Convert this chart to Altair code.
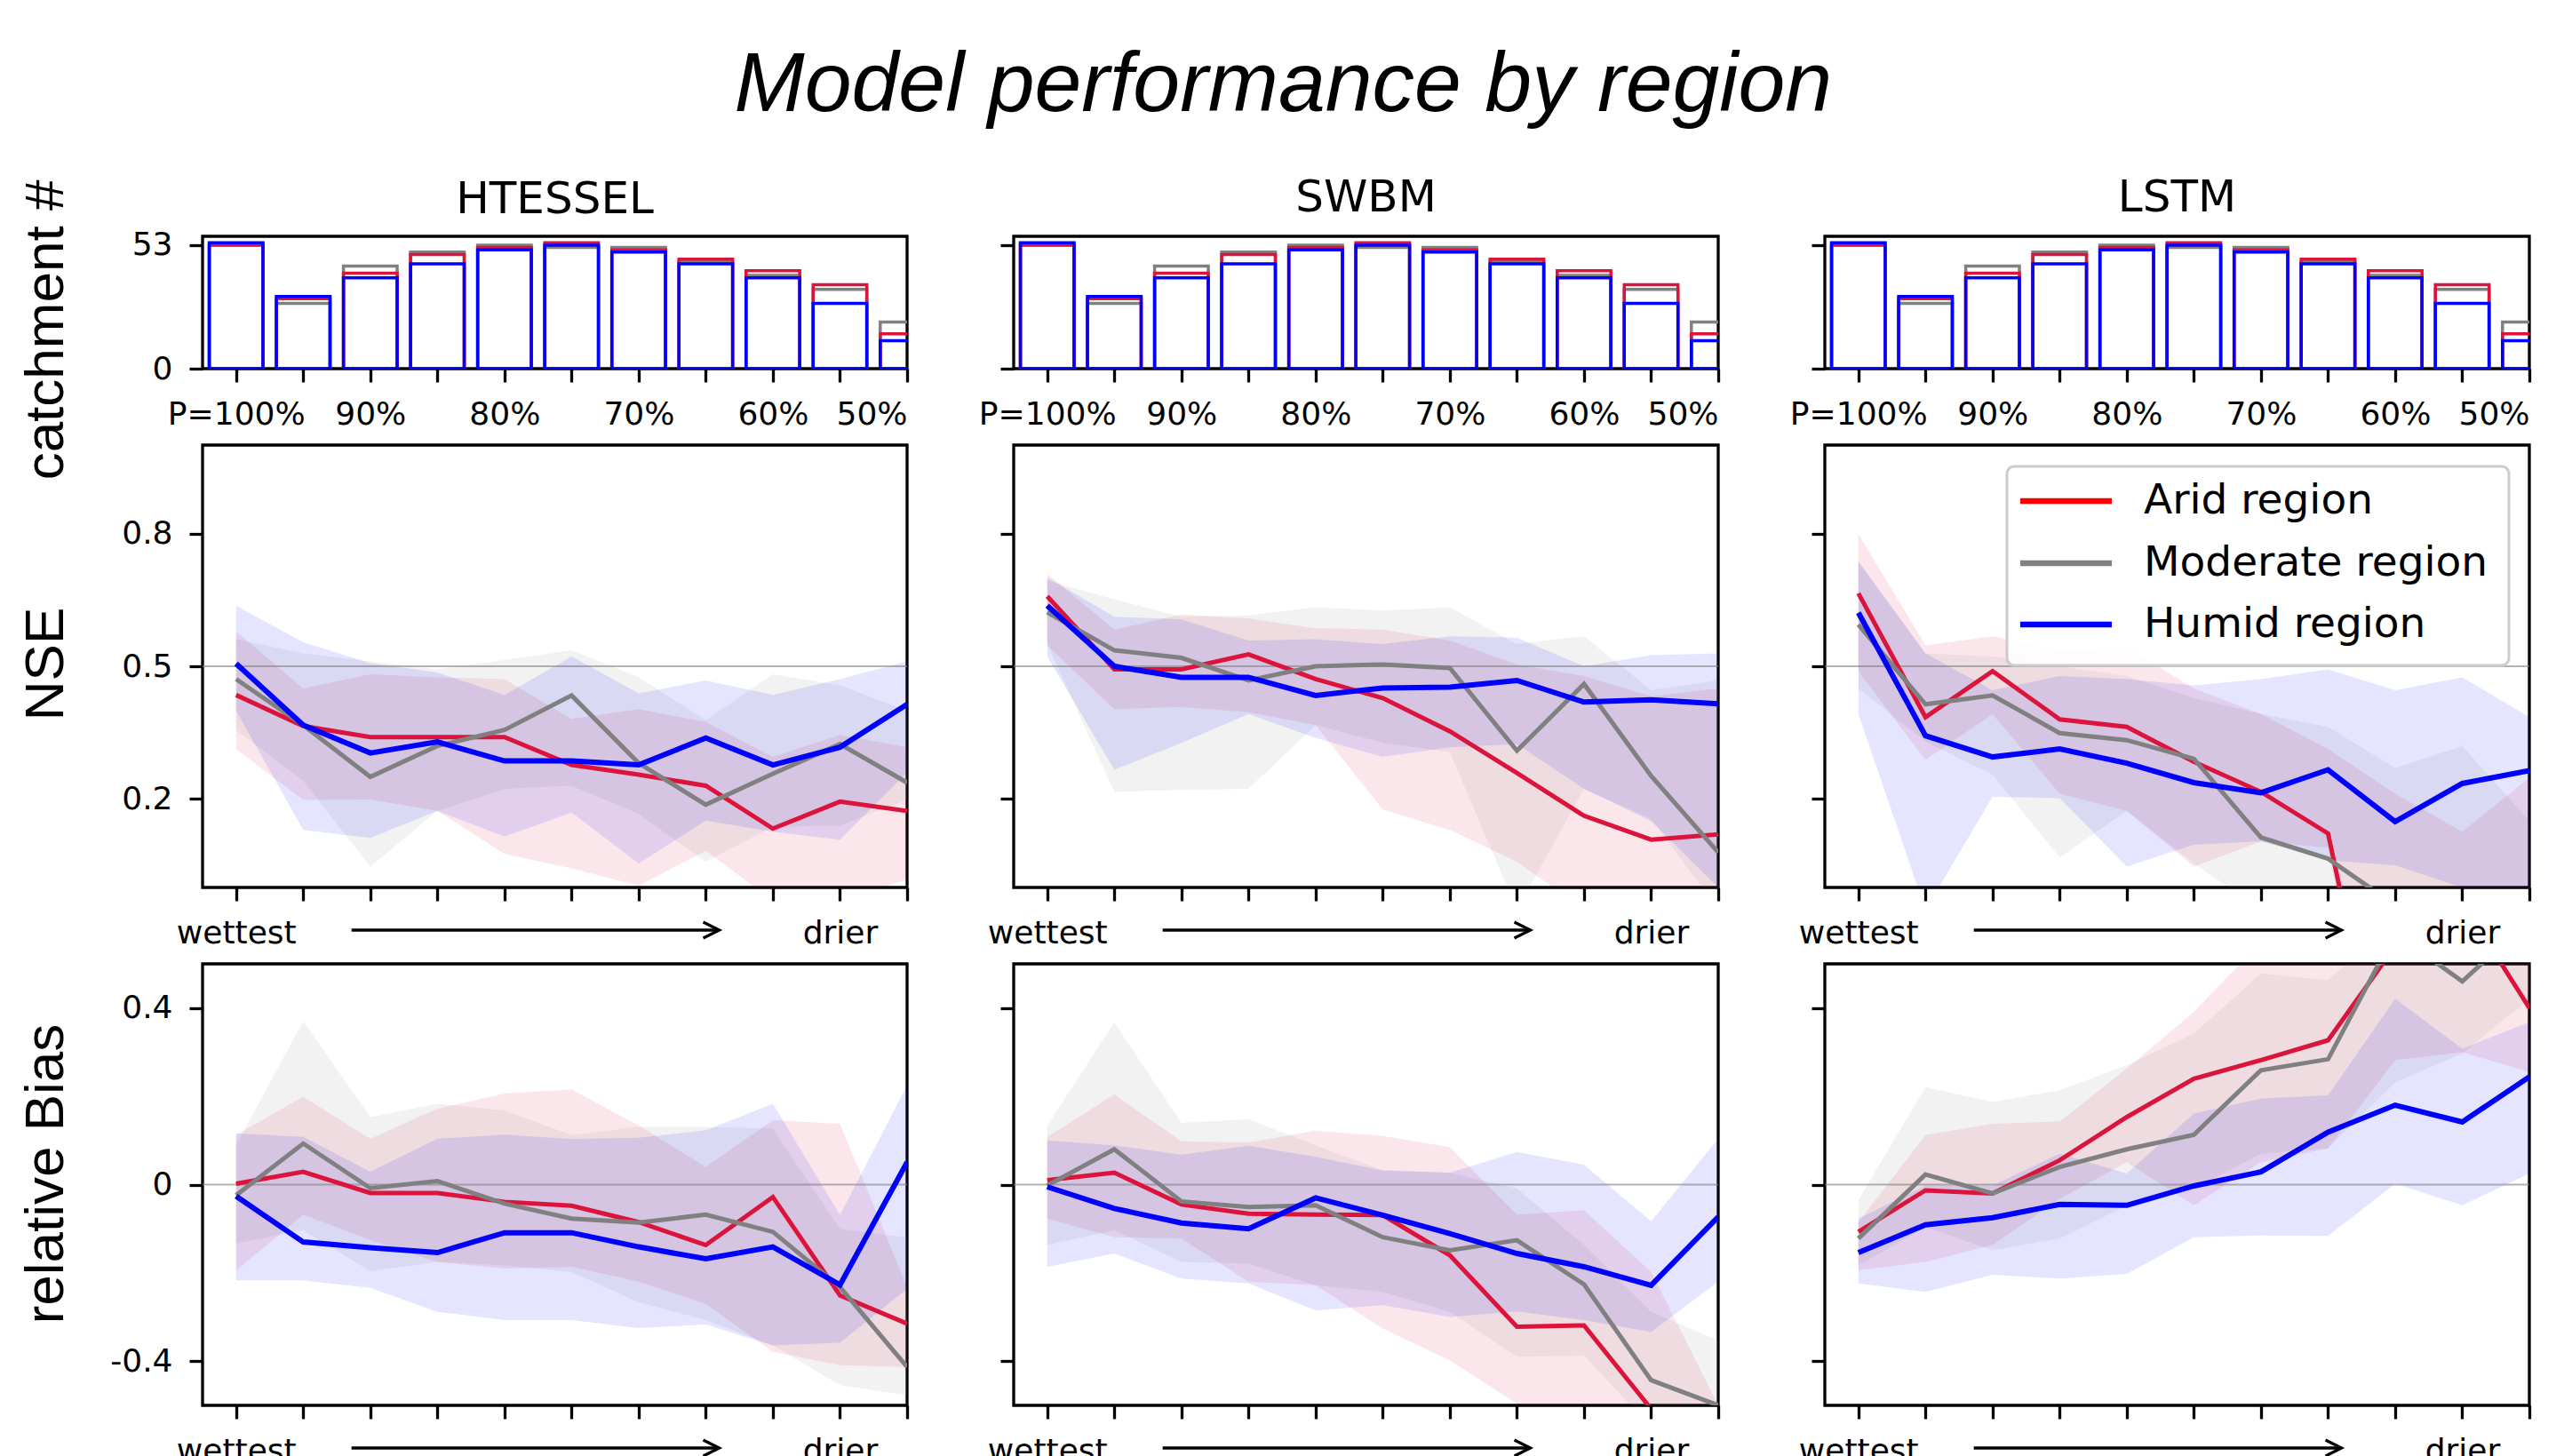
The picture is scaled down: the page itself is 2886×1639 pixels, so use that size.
import json
import altair as alt
import pandas as pd

# ---------------- data ----------------
MODELS = ["HTESSEL", "SWBM", "LSTM"]
REGIONS = ["Arid region", "Moderate region", "Humid region"]
LINE_COLORS = ["#DC143C", "#808080", "#0000FF"]
LEGEND_COLORS = ["#FF0000", "#808080", "#0000FF"]
LINE_WIDTHS = [5, 5, 6]
POSITIONS = list(range(11))
BAR_TICK_LABELS = ["P=100%", "", "90%", "", "80%", "", "70%", "", "60%", "", "50%"]
TREND_TICK_LABELS = ["wettest", "", "", "", "", "", "", "", "", "drier", ""]
COUNT_TICKS = [0, 53]
COUNT_TICK_LABELS = ["0", "53"]
NSE_TICKS = [0.2, 0.5, 0.8]
NSE_TICK_LABELS = ["0.2", "0.5", "0.8"]
BIAS_TICKS = [-0.4, 0, 0.4]
BIAS_TICK_LABELS = ["-0.4", "0", "0.4"]
NSE_REF = 0.5
BIAS_REF = 0.0
ARROW_FROM = 1.72
ARROW_TO = 7.2
BAR_HALF = 0.4

COUNT_ARID = [53, 30, 41, 49, 52, 54, 51, 47, 42, 36, 15]
COUNT_MODERATE = [53, 28, 44, 50, 53, 52, 52, 46, 40, 34, 20]
COUNT_HUMID = [54, 31, 39, 45, 51, 53, 50, 45, 39, 28, 12]

# NSE -- HTESSEL
NSE_HTESSEL_ARID = [0.435, 0.365, 0.340, 0.340, 0.340, 0.277, 0.255, 0.230, 0.133, 0.194, 0.173]
NSE_HTESSEL_ARID_LO = [0.313, 0.198, 0.199, 0.173, 0.076, 0.043, 0.004, 0.083, -0.03, -0.03, 0.018]
NSE_HTESSEL_ARID_HI = [0.579, 0.450, 0.482, 0.475, 0.471, 0.381, 0.403, 0.374, 0.295, 0.345, 0.317]
NSE_HTESSEL_MOD = [0.471, 0.367, 0.250, 0.320, 0.356, 0.434, 0.281, 0.187, 0.257, 0.324, 0.237]
NSE_HTESSEL_MOD_LO = [0.356, 0.241, 0.047, 0.173, 0.223, 0.230, 0.166, 0.058, 0.137, 0.140, 0.198]
NSE_HTESSEL_MOD_HI = [0.561, 0.529, 0.511, 0.493, 0.514, 0.536, 0.475, 0.378, 0.482, 0.457, 0.399]
NSE_HTESSEL_HUM = [0.506, 0.367, 0.304, 0.329, 0.286, 0.286, 0.277, 0.338, 0.277, 0.317, 0.414]
NSE_HTESSEL_HUM_LO = [0.399, 0.130, 0.112, 0.173, 0.115, 0.169, 0.054, 0.151, 0.126, 0.108, 0.260]
NSE_HTESSEL_HUM_HI = [0.637, 0.554, 0.507, 0.486, 0.435, 0.522, 0.439, 0.468, 0.435, 0.471, 0.511]

# NSE -- SWBM
NSE_SWBM_ARID = [0.658, 0.493, 0.493, 0.527, 0.471, 0.428, 0.353, 0.259, 0.162, 0.108, 0.120]
NSE_SWBM_ARID_LO = [0.547, 0.403, 0.408, 0.396, 0.367, 0.176, 0.130, 0.058, -0.05, -0.02, -0.05]
NSE_SWBM_ARID_HI = [0.709, 0.583, 0.617, 0.608, 0.586, 0.583, 0.558, 0.504, 0.478, 0.432, 0.450]
NSE_SWBM_MOD = [0.622, 0.536, 0.519, 0.468, 0.500, 0.504, 0.496, 0.309, 0.460, 0.252, 0.079]
NSE_SWBM_MOD_LO = [0.550, 0.216, 0.221, 0.223, 0.367, 0.327, 0.306, -0.05, 0.223, 0.155, -0.05]
NSE_SWBM_MOD_HI = [0.694, 0.651, 0.612, 0.615, 0.633, 0.626, 0.633, 0.550, 0.568, 0.446, 0.468]
NSE_SWBM_HUM = [0.637, 0.500, 0.475, 0.475, 0.434, 0.451, 0.453, 0.468, 0.419, 0.424, 0.415]
NSE_SWBM_HUM_LO = [0.522, 0.266, 0.327, 0.392, 0.338, 0.295, 0.317, 0.324, 0.223, 0.150, 0.000]
NSE_SWBM_HUM_HI = [0.701, 0.612, 0.606, 0.558, 0.561, 0.550, 0.568, 0.565, 0.500, 0.525, 0.529]

# NSE -- LSTM
NSE_LSTM_ARID = [0.665, 0.385, 0.489, 0.380, 0.363, 0.284, 0.216, 0.122, -0.59, -0.60, -0.60]
NSE_LSTM_ARID_LO = [0.489, 0.288, 0.392, 0.212, 0.173, 0.047, 0.104, 0.090, -0.70, -0.70, -0.70]
NSE_LSTM_ARID_HI = [0.799, 0.547, 0.568, 0.536, 0.543, 0.450, 0.392, 0.313, 0.212, 0.126, 0.248]
NSE_LSTM_MOD = [0.594, 0.414, 0.434, 0.349, 0.333, 0.291, 0.113, 0.065, -0.04, -0.20, -0.30]
NSE_LSTM_MOD_LO = [0.450, 0.330, 0.255, 0.068, 0.173, 0.054, -0.05, -0.10, -0.20, -0.30, -0.40]
NSE_LSTM_MOD_HI = [0.737, 0.529, 0.522, 0.500, 0.478, 0.428, 0.392, 0.363, 0.270, 0.320, 0.150]
NSE_LSTM_HUM = [0.621, 0.343, 0.295, 0.313, 0.281, 0.237, 0.214, 0.266, 0.149, 0.235, 0.264]
NSE_LSTM_HUM_LO = [0.392, -0.05, 0.205, 0.202, 0.047, 0.097, 0.104, 0.061, 0.050, 0.000, 0.000]
NSE_LSTM_HUM_HI = [0.737, 0.529, 0.446, 0.478, 0.471, 0.457, 0.471, 0.493, 0.446, 0.475, 0.385]

# relative Bias -- HTESSEL
BIAS_HTESSEL_ARID = [0.002, 0.029, -0.019, -0.019, -0.039, -0.048, -0.085, -0.137, -0.028, -0.251, -0.315]
BIAS_HTESSEL_ARID_LO = [-0.194, -0.068, -0.126, -0.175, -0.190, -0.186, -0.220, -0.270, -0.379, -0.409, -0.413]
BIAS_HTESSEL_ARID_HI = [0.112, 0.199, 0.104, 0.172, 0.206, 0.216, 0.134, 0.040, 0.146, 0.138, -0.232]
BIAS_HTESSEL_MOD = [-0.024, 0.093, -0.008, 0.008, -0.043, -0.077, -0.086, -0.068, -0.107, -0.232, -0.413]
BIAS_HTESSEL_MOD_LO = [-0.134, -0.103, -0.196, -0.175, -0.183, -0.198, -0.266, -0.307, -0.364, -0.454, -0.477]
BIAS_HTESSEL_MOD_HI = [0.089, 0.370, 0.153, 0.183, 0.168, 0.112, 0.131, 0.131, 0.127, -0.100, -0.120]
BIAS_HTESSEL_HUM = [-0.026, -0.130, -0.143, -0.154, -0.109, -0.109, -0.141, -0.168, -0.141, -0.227, 0.051]
BIAS_HTESSEL_HUM_LO = [-0.217, -0.217, -0.234, -0.288, -0.307, -0.307, -0.325, -0.317, -0.364, -0.358, -0.236]
BIAS_HTESSEL_HUM_HI = [0.116, 0.108, 0.029, 0.104, 0.113, 0.103, 0.106, 0.123, 0.183, -0.069, 0.225]

# relative Bias -- SWBM
BIAS_SWBM_ARID = [0.010, 0.027, -0.045, -0.066, -0.068, -0.069, -0.160, -0.322, -0.319, -0.508, -0.700]
BIAS_SWBM_ARID_LO = [-0.077, -0.119, -0.122, -0.220, -0.228, -0.326, -0.398, -0.496, -0.550, -0.600, -0.600]
BIAS_SWBM_ARID_HI = [0.108, 0.204, 0.098, 0.095, 0.122, 0.110, 0.085, -0.068, -0.058, -0.198, -0.500]
BIAS_SWBM_MOD = [-0.002, 0.080, -0.038, -0.051, -0.047, -0.119, -0.149, -0.126, -0.226, -0.443, -0.500]
BIAS_SWBM_MOD_LO = [-0.137, -0.103, -0.175, -0.179, -0.228, -0.243, -0.288, -0.390, -0.387, -0.550, -0.550]
BIAS_SWBM_MOD_HI = [0.134, 0.367, 0.140, 0.148, 0.089, 0.032, 0.027, -0.009, -0.137, -0.288, -0.353]
BIAS_SWBM_HUM = [-0.005, -0.054, -0.087, -0.100, -0.030, -0.069, -0.111, -0.156, -0.186, -0.228, -0.073]
BIAS_SWBM_HUM_LO = [-0.186, -0.156, -0.213, -0.224, -0.285, -0.273, -0.300, -0.287, -0.307, -0.334, -0.220]
BIAS_SWBM_HUM_HI = [0.100, 0.089, 0.068, 0.088, 0.063, 0.032, 0.027, 0.074, 0.045, -0.083, 0.104]

# relative Bias -- LSTM
BIAS_LSTM_ARID = [-0.107, -0.013, -0.020, 0.055, 0.153, 0.240, 0.282, 0.327, 0.540, 0.640, 0.400]
BIAS_LSTM_ARID_LO = [-0.194, -0.175, -0.137, -0.032, 0.051, -0.047, 0.051, 0.082, 0.282, 0.300, 0.255]
BIAS_LSTM_ARID_HI = [-0.085, 0.112, 0.138, 0.143, 0.263, 0.391, 0.550, 0.600, 0.600, 0.600, 0.600]
BIAS_LSTM_MOD = [-0.122, 0.023, -0.020, 0.040, 0.080, 0.113, 0.259, 0.284, 0.570, 0.460, 0.600]
BIAS_LSTM_MOD_LO = [-0.183, -0.096, -0.149, -0.122, -0.047, -0.009, 0.070, 0.082, 0.232, 0.297, 0.421]
BIAS_LSTM_MOD_HI = [-0.035, 0.221, 0.187, 0.214, 0.270, 0.342, 0.478, 0.463, 0.600, 0.600, 0.600]
BIAS_LSTM_HUM = [-0.154, -0.091, -0.075, -0.045, -0.047, -0.003, 0.029, 0.119, 0.180, 0.142, 0.244]
BIAS_LSTM_HUM_LO = [-0.224, -0.243, -0.204, -0.213, -0.202, -0.119, -0.115, -0.116, 0.002, -0.047, 0.025]
BIAS_LSTM_HUM_HI = [-0.077, -0.002, -0.002, 0.070, 0.025, 0.161, 0.195, 0.202, 0.421, 0.308, 0.368]

G = globals()
REGION_KEYS = {"Arid region": "ARID", "Moderate region": "MOD", "Humid region": "HUM"}


def series(metric, model, region):
    k = f"{metric}_{model}_{REGION_KEYS[region]}"
    return G[k], G[k + "_LO"], G[k + "_HI"]


# ---------------- layout / style ----------------
PANEL_W = 793
BAR_H = 149
NSE_H = 498
BIAS_H = 497
X_DOMAIN = [-0.5, 10]
COUNT_DOMAIN = [0, 56.8]
NSE_DOMAIN = [0, 1]
BIAS_DOMAIN = [-0.5, 0.5]
TITLE_FONT = "Liberation Sans"
TICK_FONT = "DejaVu Sans"

# legend box geometry (pixels inside the LSTM NSE panel)
LEG_BOX = (205, 770, 24, 248)
LEG_LINE_X = (220, 323)
LEG_ROW_Y = [63, 133, 202]
LEG_TEXT_X = 359

x_scale = alt.Scale(domain=X_DOMAIN, nice=False, zero=False)
color_scale = alt.Scale(domain=REGIONS, range=LINE_COLORS)


def label_expr_idx(labels):
    return json.dumps(labels) + "[datum.value]"


def label_expr_vals(values, labels):
    return f"{json.dumps(labels)}[indexof({json.dumps(values)}, datum.value)]"


def y_axis(ticks, tick_labels, show, title, title_y):
    if show:
        return alt.Axis(values=ticks, labelExpr=label_expr_vals(ticks, tick_labels),
                        title=title, titleX=-158, titleY=title_y,
                        titleAngle=270, titleAlign="center", titleBaseline="alphabetic")
    return alt.Axis(values=ticks, labels=False, title=None)


def col_title(model, col):
    return alt.TitleParams(model, font=TICK_FONT, fontSize=50, fontWeight="normal",
                           color="black", anchor="middle", frame="group",
                           baseline="alphabetic", offset=0, dy=88 if col == 0 else 22)


def bar_panel(model, col):
    rows = []
    for region, counts in [("Moderate region", COUNT_MODERATE), ("Arid region", COUNT_ARID),
                           ("Humid region", COUNT_HUMID)]:
        for p, c in zip(POSITIONS, counts):
            rows.append({"x0": p - BAR_HALF, "x1": p + BAR_HALF, "count": c, "region": region})
    df = pd.DataFrame(rows)
    x_axis = alt.Axis(values=POSITIONS, labelExpr=label_expr_idx(BAR_TICK_LABELS),
                      labelOverlap=False, labelAngle=0, title=None)
    chart = alt.Chart(df).mark_rect(clip=True, fill="white", fillOpacity=0, strokeWidth=3.5).encode(
        x=alt.X("x0:Q", scale=x_scale, axis=x_axis),
        x2="x1:Q",
        y=alt.Y("count:Q", scale=alt.Scale(domain=COUNT_DOMAIN, nice=False, zero=True),
                axis=y_axis(COUNT_TICKS, COUNT_TICK_LABELS, col == 0, "catchment #", 105)),
        y2=alt.Y2Datum(0),
        stroke=alt.Stroke("region:N", scale=color_scale, legend=None),
    )
    return chart.properties(width=PANEL_W, height=BAR_H, title=col_title(model, col))


def legend_layers():
    layers = []
    x0, x1, y0, y1 = LEG_BOX
    one = pd.DataFrame({"k": [0]})
    layers.append(alt.Chart(one).mark_rect(
        fill="white", fillOpacity=0.85, stroke="#cccccc", strokeWidth=3, cornerRadius=8).encode(
        x=alt.value(x0), x2=alt.value(x1), y=alt.value(y0), y2=alt.value(y1)))
    for region, col, yy in zip(REGIONS, LEGEND_COLORS, LEG_ROW_Y):
        d = pd.DataFrame({"region": [region]})
        layers.append(alt.Chart(d).mark_rule(color=col, strokeWidth=6.5).encode(
            x=alt.value(LEG_LINE_X[0]), x2=alt.value(LEG_LINE_X[1]), y=alt.value(yy)))
        layers.append(alt.Chart(d).mark_text(
            align="left", baseline="middle", font=TICK_FONT, fontSize=47, color="black").encode(
            x=alt.value(LEG_TEXT_X), y=alt.value(yy), text="region:N"))
    return layers


def trend_panel(metric, model, col):
    rows = []
    for region in REGIONS:
        med, lo, hi = series(metric, model, region)
        for p, m, l, h in zip(POSITIONS, med, lo, hi):
            rows.append({"pos": p, "region": region, "med": m, "lo": l, "hi": h})
    df = pd.DataFrame(rows)
    if metric == "NSE":
        dom, ticks, tl, ref, h, title, ty = NSE_DOMAIN, NSE_TICKS, NSE_TICK_LABELS, NSE_REF, NSE_H, "NSE", 246
    else:
        dom, ticks, tl, ref, h, title, ty = BIAS_DOMAIN, BIAS_TICKS, BIAS_TICK_LABELS, BIAS_REF, BIAS_H, "relative Bias", 236
    y_scale = alt.Scale(domain=dom, nice=False, zero=False)
    x_axis = alt.Axis(values=POSITIONS, labelExpr=label_expr_idx(TREND_TICK_LABELS),
                      labelOverlap=False, labelAngle=0, title=None)
    yax = y_axis(ticks, tl, col == 0, title, ty)
    base = alt.Chart(df)
    band = base.mark_area(clip=True, fillOpacity=0.1, strokeWidth=0).encode(
        x=alt.X("pos:Q", scale=x_scale, axis=x_axis),
        y=alt.Y("lo:Q", scale=y_scale, axis=yax),
        y2="hi:Q",
        fill=alt.Fill("region:N", scale=color_scale, legend=None),
    )
    ref_line = alt.Chart(pd.DataFrame({"ref": [ref]})).mark_rule(
        color="#808080", strokeWidth=2, opacity=0.6).encode(
        y=alt.Y("ref:Q", scale=y_scale, axis=yax))
    layers = [band, ref_line]
    for region, colr, w in zip(REGIONS, LINE_COLORS, LINE_WIDTHS):
        layers.append(base.transform_filter(alt.datum.region == region).mark_line(
            clip=True, color=colr, strokeWidth=w).encode(
            x=alt.X("pos:Q", scale=x_scale, axis=x_axis),
            y=alt.Y("med:Q", scale=y_scale, axis=yax)))
    arr = pd.DataFrame({"a": [ARROW_FROM], "b": [ARROW_TO]})
    layers.append(alt.Chart(arr).mark_rule(color="black", strokeWidth=3.3).encode(
        x=alt.X("a:Q", scale=x_scale, axis=x_axis), x2="b:Q", y=alt.value(h + 48)))
    layers.append(alt.Chart(arr).mark_point(
        shape="M-2,-1L0,0L-2,1", filled=False, color="black", strokeWidth=3.3,
        size=324, opacity=1).encode(
        x=alt.X("b:Q", scale=x_scale, axis=x_axis), y=alt.value(h + 48)))
    if metric == "NSE" and col == 2:
        layers += legend_layers()
    return alt.layer(*layers).properties(width=PANEL_W, height=h)


cells = [bar_panel(m, i) for i, m in enumerate(MODELS)]
cells += [trend_panel("NSE", m, i) for i, m in enumerate(MODELS)]
cells += [trend_panel("BIAS", m, i) for i, m in enumerate(MODELS)]

chart = alt.concat(*cells, columns=3, spacing=alt.RowColnumber(row=86, column=120),
                   bounds="flush", align="each").properties(
    title=alt.TitleParams("Model performance by region", font=TITLE_FONT, fontSize=95,
                          fontStyle="italic", fontWeight="normal", color="black",
                          anchor="middle", offset=0, dy=-51, dx=10),
    padding={"left": 228, "top": 266, "right": 2658, "bottom": 1373},
    autosize=alt.AutoSizeParams(type="none"),
    background="white",
).configure_view(
    stroke="black", strokeWidth=3.3
).configure_axis(
    labelFont=TICK_FONT, labelFontSize=36, labelColor="black", labelPadding=19,
    tickColor="black", tickWidth=3.3, tickSize=15, domain=False, grid=False,
    titleFont=TITLE_FONT, titleFontSize=62, titleFontWeight="normal", titleColor="black",
)

chart.save("out.html", embed_options={"renderer": "svg", "actions": False})
